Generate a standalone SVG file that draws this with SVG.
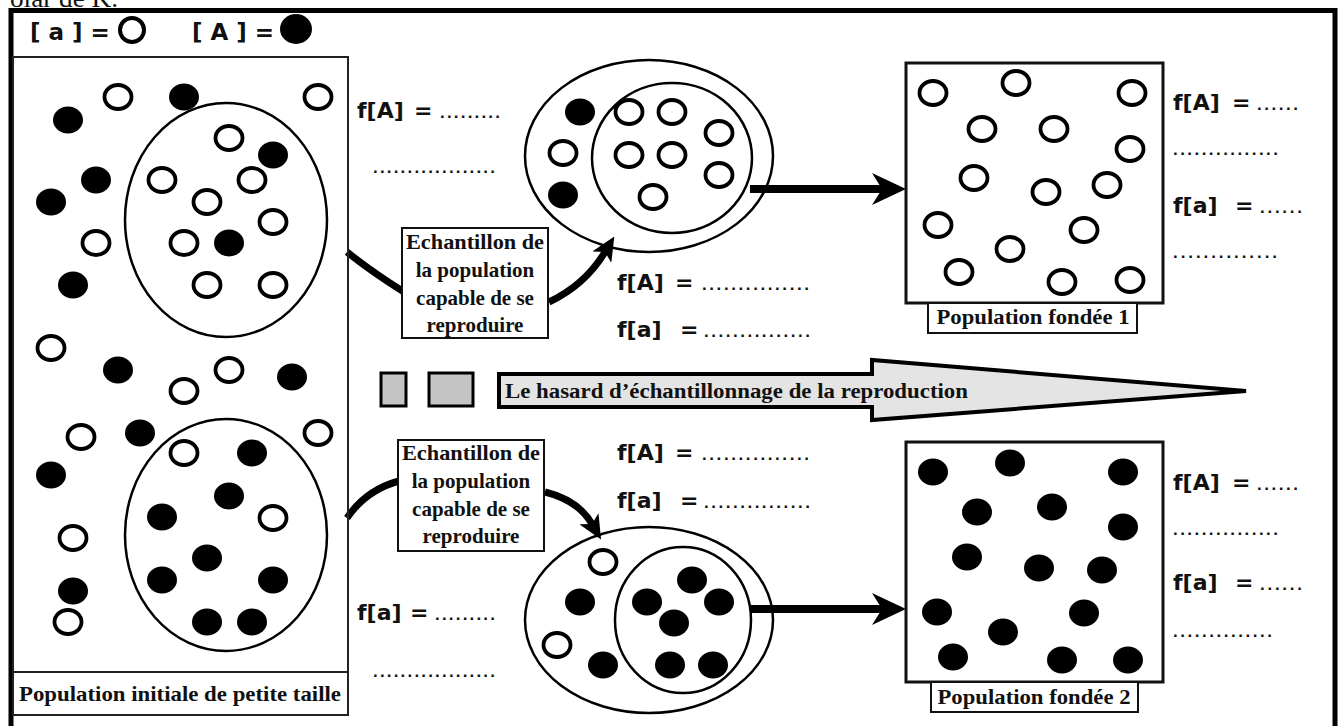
<svg xmlns="http://www.w3.org/2000/svg" width="1338" height="726" viewBox="0 0 1338 726">
<defs>
<style>
.o{fill:#fff;stroke:#000;stroke-width:3.8}
.fl{fill:#000}
.el{fill:none;stroke:#000;stroke-width:2.5}
.box{fill:#fff;stroke:#111;stroke-width:2}
.fbox{fill:#fff;stroke:#111;stroke-width:3}
.sans{font-family:"DejaVu Sans","Liberation Sans",sans-serif;font-weight:bold;font-size:22px;fill:#111}
.dots{font-family:"Liberation Sans",Arial,sans-serif;font-weight:bold;font-size:17px;fill:#111}
.ser{font-family:"Liberation Serif","Times New Roman",serif;font-weight:bold;font-size:21px;fill:#111}
.mid{text-anchor:middle}
.curve{fill:none;stroke:#000;stroke-width:7}
.thick{stroke:#000;stroke-width:8}
</style>
<ellipse id="oc" class="o" rx="13.5" ry="12"/>
<ellipse id="fc" class="fl" rx="15" ry="13.5"/>
<marker id="ah" markerUnits="userSpaceOnUse" viewBox="0 0 24 22" markerWidth="24" markerHeight="22" refX="6" refY="11" orient="auto">
<path d="M0,0 L24,11 L0,22 L6,11 Z" fill="#000"/>
</marker>
</defs>
<rect width="1338" height="726" fill="#fff"/>
<text x="10" y="7" textLength="108" lengthAdjust="spacingAndGlyphs" style="font-family:'Liberation Serif',serif;font-size:26px;fill:#111">olar de K.</text>
<rect x="11" y="10.5" width="1324" height="730" fill="none" stroke="#000" stroke-width="5"/>

<g id="legend">
<text class="sans" x="30" y="40" style="font-size:23px">[ a ] =</text>
<ellipse cx="132" cy="30" rx="12" ry="12" fill="#fff" stroke="#000" stroke-width="4"/>
<text class="sans" x="192" y="40" style="font-size:23px">[ A ] =</text>
<ellipse cx="296" cy="29" rx="16" ry="15" fill="#000"/>
</g>

<g id="connectors">
<path class="curve" d="M347,252 Q372,272 404,292"/>
<path class="curve" d="M549,302 Q585,285 605,252" marker-end="url(#ah)"/>
<path class="curve" d="M347,518 Q366,490 399,481"/>
<path class="curve" d="M545,492 Q578,500 592,524" marker-end="url(#ah)"/>
<line class="thick" x1="750" y1="189" x2="884" y2="189"/>
<polygon points="872,173 906,189 872,205 882,189" fill="#000"/>
<line class="thick" x1="750" y1="609" x2="884" y2="609"/>
<polygon points="872,593 906,609 872,625 882,609" fill="#000"/>
</g>

<g id="population-initiale">
<rect x="13" y="57" width="335" height="658" fill="none" stroke="#222" stroke-width="2"/>
<line x1="13" y1="672" x2="348" y2="672" stroke="#222" stroke-width="2"/>
<text class="ser mid" x="180" y="701" textLength="322" lengthAdjust="spacingAndGlyphs">Population initiale de petite taille</text>
<ellipse class="el" cx="226" cy="220" rx="101" ry="117"/>
<ellipse class="el" cx="226" cy="535" rx="101" ry="116"/>
<use href="#oc" x="118" y="97"/><use href="#oc" x="318" y="97"/><use href="#oc" x="229" y="138"/>
<use href="#oc" x="162" y="180"/><use href="#oc" x="252" y="180"/><use href="#oc" x="207" y="202"/>
<use href="#oc" x="273" y="222"/><use href="#oc" x="184" y="243"/><use href="#oc" x="96" y="243"/>
<use href="#oc" x="207" y="285"/><use href="#oc" x="273" y="285"/><use href="#oc" x="51" y="348"/>
<use href="#oc" x="229" y="370"/><use href="#oc" x="184" y="391"/><use href="#oc" x="81" y="437"/>
<use href="#oc" x="318" y="433"/><use href="#oc" x="184" y="453"/><use href="#oc" x="273" y="518"/>
<use href="#oc" x="73" y="538"/><use href="#oc" x="68" y="622"/>
<use href="#fc" x="184" y="97"/><use href="#fc" x="68" y="120"/><use href="#fc" x="273" y="155"/>
<use href="#fc" x="96" y="180"/><use href="#fc" x="51" y="202"/><use href="#fc" x="229" y="243"/>
<use href="#fc" x="73" y="285"/><use href="#fc" x="118" y="370"/><use href="#fc" x="292" y="377"/>
<use href="#fc" x="140" y="433"/><use href="#fc" x="51" y="475"/><use href="#fc" x="252" y="453"/>
<use href="#fc" x="229" y="496"/><use href="#fc" x="162" y="517"/><use href="#fc" x="207" y="558"/>
<use href="#fc" x="162" y="580"/><use href="#fc" x="273" y="580"/><use href="#fc" x="73" y="591"/>
<use href="#fc" x="207" y="622"/><use href="#fc" x="252" y="622"/>
</g>

<g id="freq-initiale">
<text class="sans" x="357" y="118">f[A]<tspan x="414">=</tspan></text>
<text class="dots" x="440" y="118" textLength="60" lengthAdjust="spacing">.........</text>
<text class="dots" x="373" y="173" textLength="122" lengthAdjust="spacing">..................</text>
<text class="sans" x="357" y="620">f[a]<tspan x="410">=</tspan></text>
<text class="dots" x="435" y="620" textLength="60" lengthAdjust="spacing">.........</text>
<text class="dots" x="373" y="677" textLength="122" lengthAdjust="spacing">..................</text>
</g>

<g id="echantillon-1">
<rect class="box" x="402" y="228" width="146" height="110"/>
<text class="ser mid" x="475" y="249" textLength="138" lengthAdjust="spacingAndGlyphs">Echantillon de</text>
<text class="ser mid" x="475" y="277">la population</text>
<text class="ser mid" x="475" y="305">capable de se</text>
<text class="ser mid" x="475" y="332">reproduire</text>
</g>

<g id="echantillon-2">
<rect class="box" x="398" y="440" width="146" height="111"/>
<text class="ser mid" x="471" y="460" textLength="138" lengthAdjust="spacingAndGlyphs">Echantillon de</text>
<text class="ser mid" x="471" y="488">la population</text>
<text class="ser mid" x="471" y="516">capable de se</text>
<text class="ser mid" x="471" y="543">reproduire</text>
</g>

<g id="sample-1">
<ellipse class="el" cx="649" cy="156" rx="124" ry="96"/>
<ellipse class="el" cx="672" cy="158" rx="80" ry="75"/>
<use href="#oc" x="563" y="153"/><use href="#oc" x="629" y="112"/><use href="#oc" x="672" y="112"/>
<use href="#oc" x="719" y="133"/><use href="#oc" x="629" y="155"/><use href="#oc" x="672" y="155"/>
<use href="#oc" x="719" y="175"/><use href="#oc" x="653" y="197"/>
<use href="#fc" x="580" y="112"/><use href="#fc" x="563" y="195"/>
<text class="sans" x="617" y="290">f[A]<tspan x="675">=</tspan></text>
<text class="dots" x="702" y="290" textLength="107" lengthAdjust="spacing">...............</text>
<text class="sans" x="617" y="337">f[a]<tspan x="680">=</tspan></text>
<text class="dots" x="704" y="337" textLength="106" lengthAdjust="spacing">...............</text>
</g>

<g id="sample-2">
<ellipse class="el" cx="649" cy="620" rx="124" ry="93"/>
<ellipse class="el" cx="683" cy="620" rx="68" ry="73"/>
<use href="#oc" x="603" y="562"/><use href="#oc" x="557" y="645"/>
<use href="#fc" x="580" y="602"/><use href="#fc" x="603" y="665"/><use href="#fc" x="692" y="580"/>
<use href="#fc" x="647" y="602"/><use href="#fc" x="719" y="602"/><use href="#fc" x="674" y="623"/>
<use href="#fc" x="670" y="665"/><use href="#fc" x="713" y="665"/>
<text class="sans" x="617" y="460">f[A]<tspan x="675">=</tspan></text>
<text class="dots" x="702" y="460" textLength="107" lengthAdjust="spacing">...............</text>
<text class="sans" x="617" y="508">f[a]<tspan x="680">=</tspan></text>
<text class="dots" x="704" y="508" textLength="106" lengthAdjust="spacing">...............</text>
</g>

<g id="hasard">
<rect x="381" y="373" width="25" height="33" fill="#c4c4c4" stroke="#000" stroke-width="3"/>
<rect x="429" y="373" width="44" height="33" fill="#c4c4c4" stroke="#000" stroke-width="3"/>
<polygon points="499,374 872,374 872,360 1246,391 872,420 872,407 499,407" fill="#e4e4e4" stroke="#000" stroke-width="4" stroke-linejoin="miter"/>
<text class="ser" x="505" y="398" style="font-size:20px" textLength="463" lengthAdjust="spacingAndGlyphs">Le hasard d’échantillonnage de la reproduction</text>
</g>

<g id="population-fondee-1">
<rect class="fbox" x="906" y="63" width="257" height="240"/>
<rect class="box" x="928" y="303" width="209" height="30"/>
<text class="ser mid" x="1033" y="324" textLength="193" lengthAdjust="spacingAndGlyphs">Population fondée 1</text>
<use href="#oc" x="933" y="93"/><use href="#oc" x="1016" y="83"/><use href="#oc" x="1132" y="93"/>
<use href="#oc" x="982" y="129"/><use href="#oc" x="1054" y="129"/><use href="#oc" x="1130" y="149"/>
<use href="#oc" x="974" y="178"/><use href="#oc" x="1046" y="192"/><use href="#oc" x="1107" y="185"/>
<use href="#oc" x="938" y="225"/><use href="#oc" x="1084" y="230"/><use href="#oc" x="1010" y="249"/>
<use href="#oc" x="959" y="272"/><use href="#oc" x="1062" y="282"/><use href="#oc" x="1130" y="280"/>
<text class="sans" x="1173" y="110">f[A]<tspan x="1232">=</tspan></text>
<text class="dots" x="1257" y="110" textLength="41" lengthAdjust="spacing">......</text>
<text class="dots" x="1173" y="155" textLength="105" lengthAdjust="spacing">...............</text>
<text class="sans" x="1173" y="213">f[a]<tspan x="1235">=</tspan></text>
<text class="dots" x="1260" y="213" textLength="42" lengthAdjust="spacing">......</text>
<text class="dots" x="1173" y="258" textLength="104" lengthAdjust="spacing">..............</text>
</g>

<g id="population-fondee-2">
<rect class="fbox" x="906" y="442" width="257" height="240"/>
<rect class="box" x="931" y="682" width="207" height="30"/>
<text class="ser mid" x="1034" y="704" textLength="193" lengthAdjust="spacingAndGlyphs">Population fondée 2</text>
<use href="#fc" x="933" y="472"/><use href="#fc" x="1010" y="463"/><use href="#fc" x="1123" y="472"/>
<use href="#fc" x="977" y="512"/><use href="#fc" x="1052" y="507"/><use href="#fc" x="1123" y="527"/>
<use href="#fc" x="967" y="557"/><use href="#fc" x="1039" y="568"/><use href="#fc" x="1102" y="570"/>
<use href="#fc" x="937" y="612"/><use href="#fc" x="1084" y="613"/><use href="#fc" x="1003" y="632"/>
<use href="#fc" x="953" y="657"/><use href="#fc" x="1062" y="660"/><use href="#fc" x="1128" y="660"/>
<text class="sans" x="1173" y="490">f[A]<tspan x="1232">=</tspan></text>
<text class="dots" x="1257" y="490" textLength="41" lengthAdjust="spacing">......</text>
<text class="dots" x="1173" y="535" textLength="105" lengthAdjust="spacing">...............</text>
<text class="sans" x="1173" y="590">f[a]<tspan x="1235">=</tspan></text>
<text class="dots" x="1260" y="590" textLength="42" lengthAdjust="spacing">......</text>
<text class="dots" x="1173" y="637" textLength="99" lengthAdjust="spacing">..............</text>
</g>
</svg>
